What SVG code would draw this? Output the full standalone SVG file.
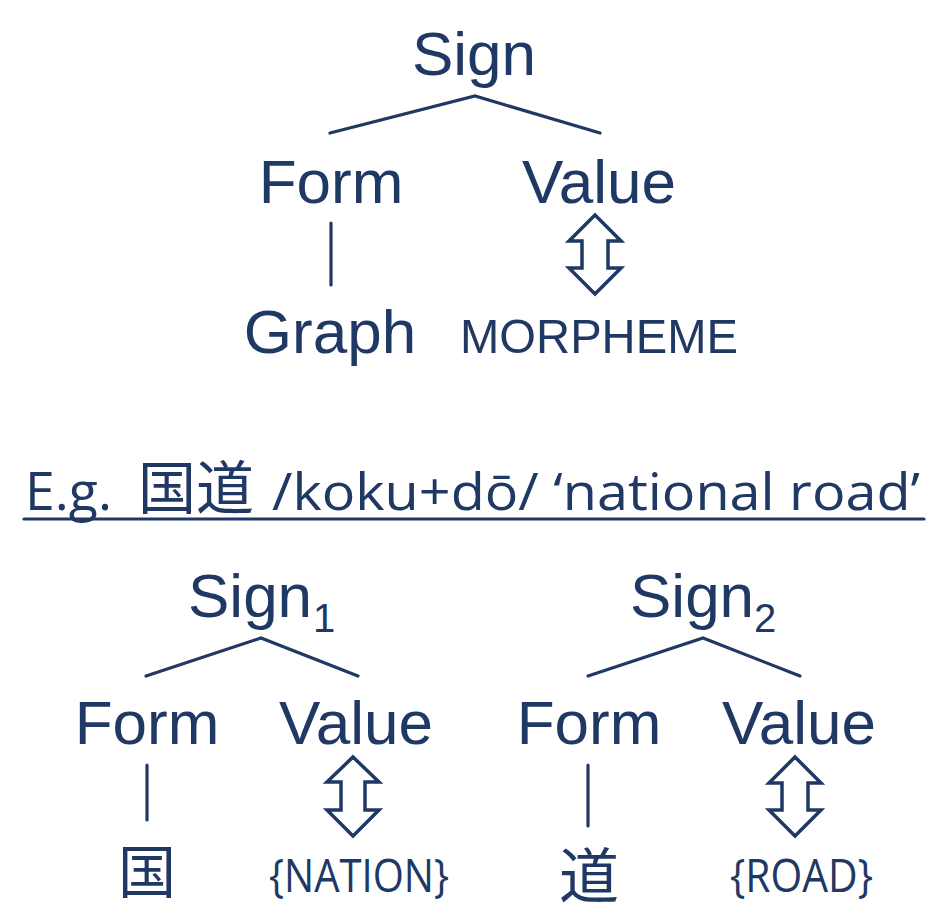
<svg xmlns="http://www.w3.org/2000/svg" width="931" height="919" viewBox="0 0 931 919">
<style>
.t{font-family:"Liberation Sans",Arial,sans-serif;fill:#203864}
.c{font-family:"Open Sans","Noto Sans CJK JP",sans-serif;fill:#203864}
.j{font-family:"Noto Sans CJK JP",sans-serif;fill:#203864}
.ln{stroke:#203864;stroke-width:3.2;fill:none;stroke-linecap:round;stroke-linejoin:miter}
.ar{stroke:#203864;stroke-width:3.5;fill:#ffffff;stroke-linejoin:miter}
</style>
<rect width="931" height="919" fill="#ffffff"/>

<g id="sign-top"><text class="t" x="474" y="75" font-size="62" text-anchor="middle">Sign</text></g>
<g id="form-top"><text class="t" x="331" y="203" font-size="62" text-anchor="middle">Form</text></g>
<g id="value-top"><text class="t" x="599" y="203" font-size="62" text-anchor="middle">Value</text></g>
<g id="graph"><text class="t" x="330" y="353" font-size="62" text-anchor="middle">Graph</text></g>
<g id="morpheme"><text class="t" x="460" y="353" font-size="49" textLength="278" lengthAdjust="spacingAndGlyphs">MORPHEME</text></g>

<g id="example">
<text class="c" x="25" y="510" font-size="53" textLength="87" lengthAdjust="spacingAndGlyphs">E.g.</text>
<text class="j" x="138" y="509" font-size="58">国道</text>
<text class="c" x="272" y="510" font-size="52" textLength="648" lengthAdjust="spacingAndGlyphs">/koku+dō/ ‘national road’</text>
<line class="ln" x1="24" y1="519" x2="924" y2="519" stroke-linecap="butt"/>
</g>

<g id="sign1"><text class="t" x="188" y="617" font-size="62">Sign</text><text class="t" x="313" y="632" font-size="40">1</text></g>
<g id="form1"><text class="t" x="147" y="744" font-size="62" text-anchor="middle">Form</text></g>
<g id="value1"><text class="t" x="356" y="744" font-size="62" text-anchor="middle">Value</text></g>
<g id="kuni"><text class="j" x="147" y="893" font-size="58" text-anchor="middle">国</text></g>
<g id="nation"><text class="c" x="269" y="892" font-size="45" textLength="180" lengthAdjust="spacingAndGlyphs">{NATION}</text></g>

<g id="sign2"><text class="t" x="630" y="617" font-size="62">Sign</text><text class="t" x="754" y="632" font-size="40">2</text></g>
<g id="form2"><text class="t" x="589" y="744" font-size="62" text-anchor="middle">Form</text></g>
<g id="value2"><text class="t" x="799" y="744" font-size="62" text-anchor="middle">Value</text></g>
<g id="michi"><text class="j" x="589" y="898" font-size="60" text-anchor="middle">道</text></g>
<g id="road"><text class="c" x="730" y="892" font-size="45" textLength="143" lengthAdjust="spacingAndGlyphs">{ROAD}</text></g>

<g id="connectors">
<polyline class="ln" points="330,133 475,96 600,133"/>
<line class="ln" x1="331" y1="223" x2="331" y2="285"/>
<polygon class="ar" points="595,215 621,241 608,241 608,268 621,268 595,294 569,268 582,268 582,241 569,241"/>

<polyline class="ln" points="146,676 261,638 358,676"/>
<line class="ln" x1="147" y1="765" x2="147" y2="820"/>
<polygon class="ar" points="353,757 379,782 365,782 365,810 379,810 353,836 327,810 341,810 341,782 327,782"/>

<polyline class="ln" points="588,676 703,638 800,676"/>
<line class="ln" x1="588" y1="765" x2="588" y2="826"/>
<polygon class="ar" points="795,757 821,783 808,783 808,810 821,810 795,836 769,810 782,810 782,783 769,783"/>
</g>
</svg>
